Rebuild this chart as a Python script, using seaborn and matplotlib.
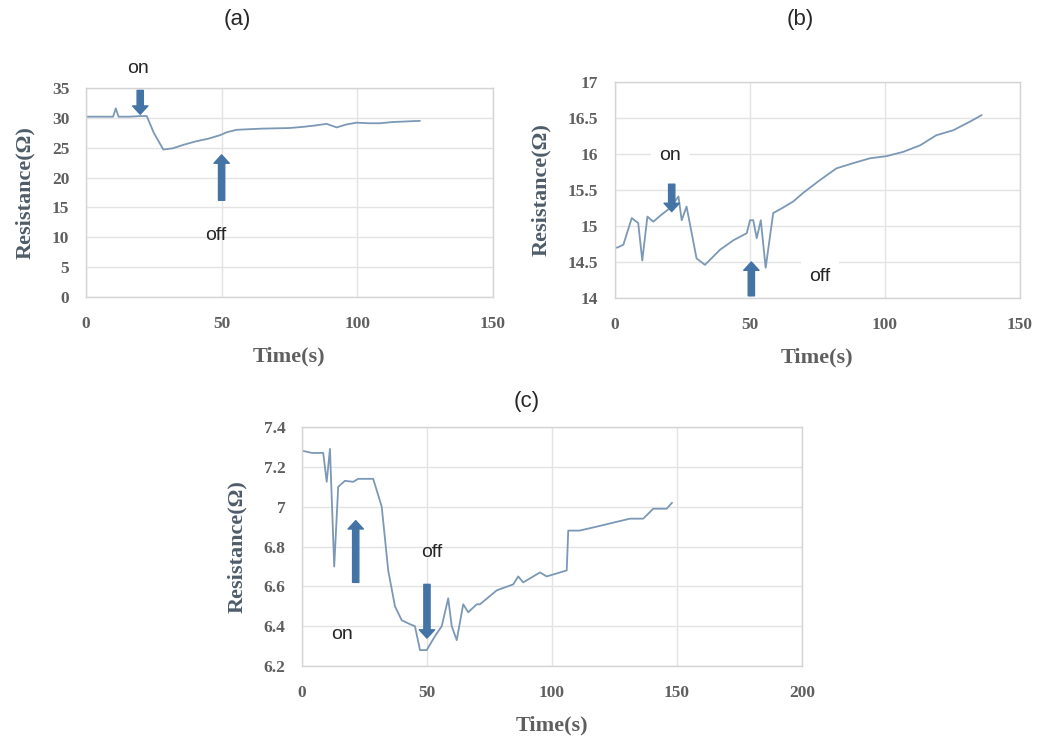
import numpy as np
import pandas as pd
import seaborn as sns
import matplotlib.pyplot as plt

# (a)
time_a = [0, 5, 10, 11, 12, 16, 20, 22.4, 25, 28.5, 32, 36, 40.8, 45, 49.4, 52, 55.5, 60, 65, 70.2,
          75, 80.1, 84, 88.7, 92.4, 96, 99.8, 104, 108.4, 113, 118, 123.1]
res_a = [30.2, 30.2, 30.2, 31.6, 30.2, 30.2, 30.3, 30.3, 27.5, 24.7, 24.9, 25.5, 26.1, 26.5, 27.1, 27.6, 28.0, 28.1, 28.2, 28.25,
         28.3, 28.5, 28.7, 29.0, 28.4, 28.9, 29.2, 29.1, 29.1, 29.3, 29.4, 29.5]

# (b)
time_b = [0, 0.9, 3.1, 6.2, 8.6, 10.1, 12.0, 14.2, 17, 20.4, 23.5, 24.7, 26.5, 30.2, 33.3, 38.9, 43.8, 48.8,
          50.0, 51.2, 52.5, 54.0, 55.8, 58.6, 62, 66, 69.7, 76, 82, 88, 94.4, 100.6, 106.8, 113, 119, 125.3,
          131.5, 135.8]
res_b = [14.7, 14.7, 14.74, 15.11, 15.04, 14.52, 15.13, 15.06, 15.15, 15.25, 15.41, 15.08, 15.27, 14.55, 14.46,
         14.67, 14.8, 14.9, 15.08, 15.08, 14.83, 15.08, 14.42, 15.18, 15.25, 15.34, 15.46, 15.64, 15.8, 15.87,
         15.94, 15.97, 16.03, 16.12, 16.26, 16.33, 16.45, 16.54]

# (c)
time_c = [0, 0.5, 4, 7.2, 8.5, 9.9, 11.2, 12.9, 14.5, 17.2, 20.5, 22.5, 28.5, 31.9, 34.5, 37.2, 39.9, 43.2,
          45.2, 47.2, 49.9, 53.2, 55.9, 58.5, 59.9, 61.9, 64.5, 66.5, 69.9, 71.2, 77.9, 84.5, 86.5, 88.5,
          95.2, 97.9, 105.9, 106.5, 111, 117.9, 124.5, 131.2, 136.5, 140.5, 145.9, 148]
res_c = [7.28, 7.28, 7.27, 7.27, 7.27, 7.125, 7.29, 6.70, 7.10, 7.13, 7.125, 7.14, 7.14, 7.0, 6.68, 6.50, 6.43,
         6.41, 6.40, 6.28, 6.28, 6.35, 6.40, 6.54, 6.40, 6.33, 6.51, 6.47, 6.51, 6.51, 6.58, 6.61, 6.65, 6.62,
         6.67, 6.65, 6.68, 6.88, 6.88, 6.90, 6.92, 6.94, 6.94, 6.99, 6.99, 7.02]

sns.set_style("whitegrid")
plt.rcParams['font.family'] = ['Liberation Sans', 'DejaVu Sans']

LINE = "#7b98b6"
ARROW = "#4473a6"
GRID = "#e3e3e3"
TICK = "#5f5f5f"
LABEL = "#4e5c69"

fig = plt.figure(figsize=(10.47, 7.44), dpi=100)
ax_a = fig.add_axes([0.0821, 0.6008, 0.3887, 0.2809])
ax_b = fig.add_axes([0.5874, 0.5995, 0.3868, 0.2903])
ax_c = fig.add_axes([0.2884, 0.1048, 0.4776, 0.3212])


def style(ax, xmax, xstep, ylo, yhi, ystep):
    ax.set_xlim(0, xmax)
    ax.set_ylim(ylo, yhi)
    xt = np.arange(0, xmax + 0.01, xstep)
    yt = np.round(np.arange(ylo, yhi + ystep / 2, ystep), 2)
    ax.set_xticks(xt)
    ax.set_yticks(yt)
    ax.set_xticklabels(['{:g}'.format(v) for v in xt])
    ax.set_yticklabels(['{:g}'.format(v) for v in yt])
    ax.grid(True, color=GRID, linewidth=1.0)
    for s in ax.spines.values():
        s.set_color("#d4d4d4")
        s.set_linewidth(1.0)
    ax.tick_params(axis='x', length=0, labelsize=12.5, labelcolor=TICK, pad=14)
    ax.tick_params(axis='y', length=0, labelsize=12.5, labelcolor=TICK, pad=12)
    for lab in ax.get_xticklabels() + ax.get_yticklabels():
        lab.set_family('Liberation Serif')
        lab.set_fontweight('bold')
    ax.set_xlabel('Time(s)', family='Liberation Serif', fontweight='bold', fontsize=16,
                  color=TICK, labelpad=10)
    ax.set_ylabel('Resistance(Ω)', family='Liberation Serif', fontweight='bold', fontsize=16,
                  color=LABEL, labelpad=12)


def arrow(ax, x, y0, y1):
    ax.annotate('', xy=(x, y1), xytext=(x, y0),
                arrowprops=dict(arrowstyle='simple,head_length=0.6,head_width=1.1,tail_width=0.45',
                                color=ARROW, mutation_scale=10, shrinkA=0, shrinkB=0))


df_a = pd.DataFrame({'t': time_a, 'r': res_a})
df_b = pd.DataFrame({'t': time_b, 'r': res_b})
df_c = pd.DataFrame({'t': time_c, 'r': res_c})

sns.lineplot(data=df_a, x='t', y='r', ax=ax_a, color=LINE, linewidth=1.3)
sns.lineplot(data=df_b, x='t', y='r', ax=ax_b, color=LINE, linewidth=1.3)
sns.lineplot(data=df_c, x='t', y='r', ax=ax_c, color=LINE, linewidth=1.3)

style(ax_a, 150, 50, 0, 35, 5)
style(ax_b, 150, 50, 14, 17, 0.5)
style(ax_c, 200, 50, 6.2, 7.4, 0.2)

fig.text(237 / 1047, 1 - 20 / 744, '(a)', fontsize=16, ha='center', va='center')
fig.text(800 / 1047, 1 - 20 / 744, '(b)', fontsize=16, ha='center', va='center')
fig.text(527 / 1047, 1 - 402 / 744, '(c)', fontsize=16, ha='center', va='center')

# annotations (a)
ax_a.text(19, 38.3, 'on', fontsize=14, ha='center', va='center', clip_on=False)
arrow(ax_a, 20, 34.6, 30.6)
arrow(ax_a, 50, 16.2, 23.8)
ax_a.text(48, 10.3, 'off', fontsize=14, ha='center', va='center')

# annotations (b)
ax_b.text(20.5, 15.98, 'on', fontsize=14, ha='center', va='center',
          bbox=dict(facecolor='white', edgecolor='none', pad=6))
arrow(ax_b, 21, 15.58, 15.2)
arrow(ax_b, 50.5, 14.03, 14.5)
ax_b.text(76, 14.3, 'off', fontsize=14, ha='center', va='center',
          bbox=dict(facecolor='white', edgecolor='none', pad=6))

# annotations (c)
arrow(ax_c, 21.5, 6.62, 6.93)
ax_c.text(16, 6.36, 'on', fontsize=14, ha='center', va='center')
ax_c.text(52, 6.77, 'off', fontsize=14, ha='center', va='center')
arrow(ax_c, 50, 6.61, 6.34)

fig.savefig('out.png', dpi=100)
